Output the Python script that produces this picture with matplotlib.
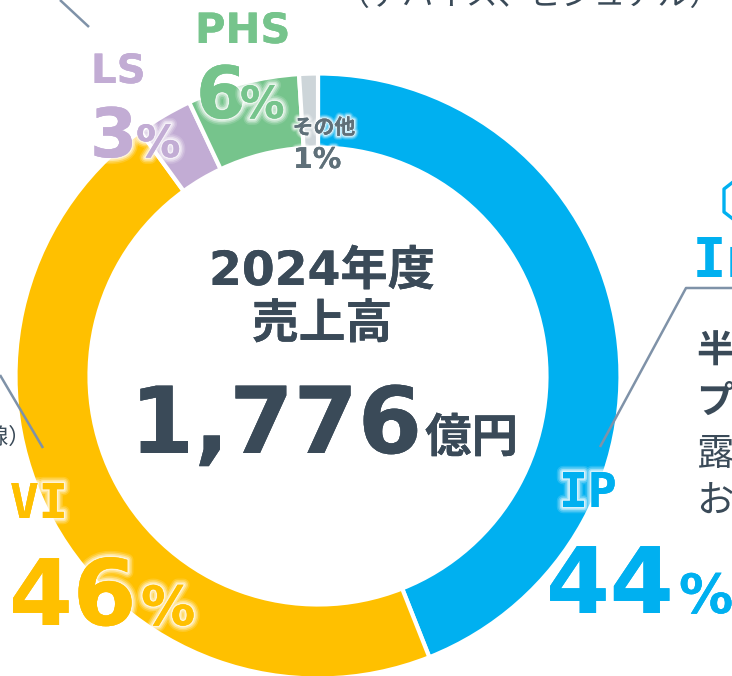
import matplotlib
matplotlib.use("Agg")
import matplotlib.pyplot as plt
import matplotlib.patheffects as pe

W, H = 732, 676
plt.rcParams['font.family'] = ['Noto Sans CJK JP', 'DejaVu Sans']

segments = ["IP", "VI", "LS", "PHS", "その他"]
shares = [44, 46, 3, 6, 1]
colors = ["#00B0F0", "#FFC000", "#C2ACD4", "#76C48C", "#CDD5D9"]
total_lines = ["2024年度", "売上高"]
total_value = "1,776"
total_unit = "億円"

DARK = "#3A4A58"
GREY = "#5F7079"
LEADER = "#7F92A8"

fig = plt.figure(figsize=(W / 100, H / 100), dpi=100, facecolor="white")
ax = fig.add_axes([0, 0, 1, 1])
ax.pie(shares, colors=colors, startangle=90, counterclock=False,
       center=(318, H - 376), radius=302.5,
       wedgeprops=dict(width=74, edgecolor="white", linewidth=3))
ax.set_xlim(0, W)
ax.set_ylim(0, H)
ax.set_aspect("equal")
ax.axis("off")


def halo(width):
    if width == 0:
        return [pe.Normal()]
    return [pe.withStroke(linewidth=width, foreground="white", alpha=0.15),
            pe.withStroke(linewidth=width * 0.75, foreground="white", alpha=0.25),
            pe.withStroke(linewidth=width * 0.5, foreground="white", alpha=0.4),
            pe.withStroke(linewidth=width * 0.25, foreground="white", alpha=0.6),
            pe.Normal()]


def put(x, y, s, size, color, weight="bold", family=None, ha="left", width=9):
    kw = {} if family is None else {"family": family}
    return ax.text(x, H - y, s, fontsize=size, color=color, fontweight=weight,
                   ha=ha, va="baseline", path_effects=halo(width), **kw)


def leader(xs, ys, color=LEADER, lw=1.8):
    ax.plot(xs, [H - v for v in ys], color=color, lw=lw, solid_capstyle="butt", zorder=1.5)


leader([60, 89], [0, 27])
leader([0, 43], [375, 448])
leader([600, 686, 732], [447, 288, 288])
leader([733, 724, 724, 733], [182, 189, 212, 219], color=colors[0], lw=2.4)

SANS = "DejaVu Sans"
MONO = "DejaVu Sans Mono"
LATIN_FIRST = ["DejaVu Sans", "Noto Sans CJK JP"]

put(322, 285, total_lines[0], 34, DARK, ha="center", family=LATIN_FIRST, width=5)
put(322, 338, total_lines[1], 33.7, DARK, ha="center", width=5)
put(130, 453, total_value, 66.5, DARK, family=SANS, width=5)
put(425, 452, total_unit, 33.5, DARK, width=5)

put(195, 43, "PHS", 30, colors[3], family=SANS)
put(196, 118, "6", 52, colors[3], family=SANS)
put(240, 118, "%", 32, colors[3], family=SANS)
put(91, 83, "LS", 29, colors[2], family=SANS)
put(90, 157, "3", 49, colors[2], family=SANS)
put(136, 157, "%", 32, colors[2], family=SANS)
put(324, 134, "その他", 15, GREY, ha="center", width=6)
put(293, 168, "1%", 20.5, GREY, family=SANS, width=6)
put(10, 518, "VI", 34.5, colors[1], family=MONO)
put(9, 625, "46", 66, colors[1], family=SANS)
put(141, 625, "%", 39, colors[1], family=SANS)
put(559, 507, "IP", 34.5, colors[0], family=MONO)
put(546, 613, "44", 66, colors[0], family=SANS)
put(679, 613, "%", 39, colors[0], family=SANS)

put(530, 5, "（デバイス、ビジュアル）", 23, DARK, weight="normal", ha="center", width=0)
put(-14, 444, "線）", 16, DARK, weight="normal", width=0)
put(693, 277, "In", 39.5, colors[0], family=MONO, width=4)
put(697, 362, "半", 27, DARK, width=0)
put(697, 413, "プ", 27, DARK, width=0)
put(697, 465, "露", 27, DARK, weight="normal", width=0)
put(697, 512, "お", 27, DARK, weight="normal", width=0)

fig.savefig("out.png", dpi=100)
